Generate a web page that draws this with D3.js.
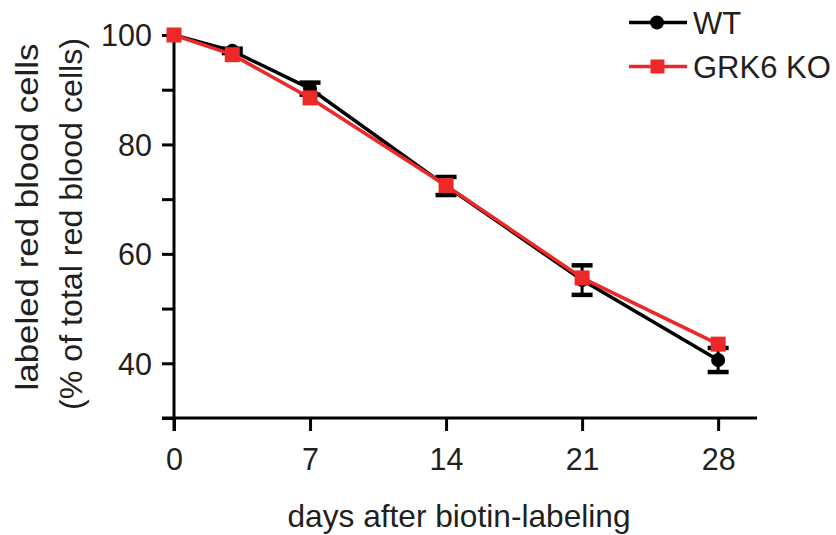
<!DOCTYPE html>
<html>
<head>
<meta charset="utf-8">
<script src="https://cdn.jsdelivr.net/npm/d3@7"></script>
<style>
  html, body { margin: 0; padding: 0; background: #fff; }
  svg { display: block; }
  text { font-family: "Liberation Sans", Arial, Helvetica, sans-serif; fill: #231f20; }
</style>
</head>
<body>
<svg id="chart" width="836" height="535"></svg>
<script>
// ---- data ----
const days = [0, 3, 7, 14, 21, 28];
const wtMean = [100, 97.1, 90.2, 72.4, 55.2, 40.6];
const wtSem  = [0, 0.4, 1.1, 1.65, 2.7, 2.2];
const koMean = [100, 96.4, 88.5, 72.5, 55.6, 43.5];
const koSem  = [0, 0, 0, 0, 0, 0];
const xTicks = [0, 7, 14, 21, 28];
const yTicks = [30, 40, 50, 60, 70, 80, 90, 100];
const yLabelTicks = [40, 60, 80, 100];
const seriesNames = ["WT", "GRK6 KO"];
const xTitle = "days after biotin-labeling";
const yTitle1 = "labeled red blood cells";
const yTitle2 = "(% of total red blood cells)";

const BLACK = "#000000";
const RED = "#ec2828";

const svg = d3.select("#chart");
const x = d3.scaleLinear().domain([0, 30]).range([174, 757]);
const y = d3.scaleLinear().domain([30, 100]).range([418, 35]);

// ---- axes ----
const yAxis = d3.axisLeft(y).tickValues(yTicks).tickSize(12).tickSizeOuter(0)
  .tickFormat(d => yLabelTicks.includes(d) ? d : "").tickPadding(10);
const gy = svg.append("g").attr("transform", `translate(${x(0)},0)`).call(yAxis);
gy.select(".domain").attr("stroke", BLACK).attr("stroke-width", 3)
  .attr("d", `M0,${y(30) + 13}V${y(100) - 1.5}`);
gy.selectAll(".tick line").attr("stroke", BLACK).attr("stroke-width", 3);
gy.selectAll(".tick text").style("font-size", "30.5px").attr("fill", "#231f20")
  .style("font-family", "'Liberation Sans', Arial, sans-serif").attr("dy", "0.36em");

const xAxis = d3.axisBottom(x).tickValues(xTicks).tickSize(13).tickSizeOuter(0).tickPadding(10);
const gx = svg.append("g").attr("transform", `translate(0,${y(30)})`).call(xAxis);
gx.select(".domain").attr("stroke", BLACK).attr("stroke-width", 3)
  .attr("d", `M${x(0) - 12},0H${x(30)}`);
gx.selectAll(".tick line").attr("stroke", BLACK).attr("stroke-width", 3);
gx.selectAll(".tick text").style("font-size", "30.5px").attr("fill", "#231f20")
  .style("font-family", "'Liberation Sans', Arial, sans-serif").attr("dy", "0.95em");

// ---- titles ----
svg.append("text").attr("x", 459).attr("y", 527).attr("text-anchor", "middle")
  .style("font-size", "32px").attr("textLength", 343).attr("lengthAdjust", "spacingAndGlyphs").text(xTitle);
svg.append("text").attr("transform", "translate(38,217) rotate(-90)")
  .attr("text-anchor", "middle").style("font-size", "32px")
  .attr("textLength", 347).attr("lengthAdjust", "spacingAndGlyphs").text(yTitle1);
svg.append("text").attr("transform", "translate(82,224) rotate(-90)")
  .attr("text-anchor", "middle").style("font-size", "32px")
  .attr("textLength", 372).attr("lengthAdjust", "spacingAndGlyphs").text(yTitle2);

// ---- series ----
const line = d3.line().x(d => x(d[0])).y(d => y(d[1]));
function drawSeries(means, sems, color, marker) {
  const pts = days.map((d, i) => [d, means[i], sems[i]]);
  const g = svg.append("g");
  g.append("path").datum(pts).attr("d", line).attr("fill", "none")
    .attr("stroke", color).attr("stroke-width", 3.5);
  const eb = g.selectAll(".eb").data(pts.filter(p => p[2] > 0)).enter().append("g");
  eb.append("line").attr("x1", p => x(p[0])).attr("x2", p => x(p[0]))
    .attr("y1", p => y(p[1] + p[2])).attr("y2", p => y(p[1] - p[2]))
    .attr("stroke", color).attr("stroke-width", 3);
  [1, -1].forEach(s => {
    eb.append("line").attr("x1", p => x(p[0]) - 10.5).attr("x2", p => x(p[0]) + 10.5)
      .attr("y1", p => y(p[1] + s * p[2])).attr("y2", p => y(p[1] + s * p[2]))
      .attr("stroke", color).attr("stroke-width", 4.5);
  });
  if (marker === "circle") {
    g.selectAll(".m").data(pts).enter().append("circle")
      .attr("cx", p => x(p[0])).attr("cy", p => y(p[1])).attr("r", 7).attr("fill", color);
  } else {
    g.selectAll(".m").data(pts).enter().append("rect")
      .attr("x", p => x(p[0]) - 7.5).attr("y", p => y(p[1]) - 7.5)
      .attr("width", 15).attr("height", 15).attr("fill", color);
  }
}
drawSeries(wtMean, wtSem, BLACK, "circle");
drawSeries(koMean, koSem, RED, "square");

// ---- legend ----
const leg = svg.append("g");
const legY = [22.5, 66.5];
[BLACK, RED].forEach((c, i) => {
  leg.append("line").attr("x1", 629).attr("x2", 687).attr("y1", legY[i]).attr("y2", legY[i])
    .attr("stroke", c).attr("stroke-width", 3.5);
  if (i === 0) {
    leg.append("circle").attr("cx", 657).attr("cy", legY[i]).attr("r", 7).attr("fill", c);
  } else {
    leg.append("rect").attr("x", 650.5).attr("y", legY[i] - 7).attr("width", 14).attr("height", 14).attr("fill", c);
  }
  leg.append("text").attr("x", 693).attr("y", legY[i] + 11).style("font-size", "31px").text(seriesNames[i]);
});
</script>
</body>
</html>
